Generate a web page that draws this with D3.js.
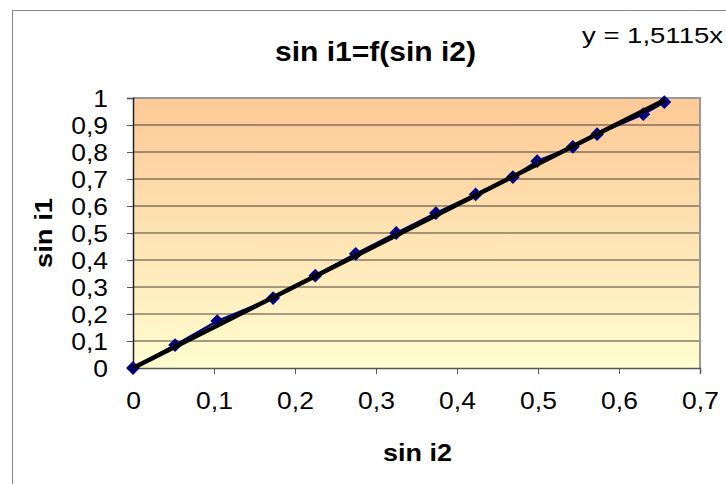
<!DOCTYPE html>
<html>
<head>
<meta charset="utf-8">
<script src="https://cdn.jsdelivr.net/npm/d3@7"></script>
<style>
  body { margin: 0; background: #fff; }
  text { font-family: Arial, "Liberation Sans", sans-serif; }
</style>
</head>
<body>
<div id="plot"></div>
<script>
// data
var sinI2 = [0, 0.052, 0.104, 0.173, 0.225, 0.275, 0.325, 0.374, 0.423, 0.469, 0.499, 0.543, 0.573, 0.630, 0.656];
var sinI1 = [0, 0.085, 0.174, 0.259, 0.342, 0.423, 0.5, 0.574, 0.643, 0.707, 0.766, 0.819, 0.866, 0.940, 0.985];
var slope = 1.5115;
var xTicks = [0, 0.1, 0.2, 0.3, 0.4, 0.5, 0.6, 0.7];
var yTicks = [0, 0.1, 0.2, 0.3, 0.4, 0.5, 0.6, 0.7, 0.8, 0.9, 1];

function init() {
  var w = 726;
  var h = 484;
  var left = 133, right = 700, top = 98, bottom = 368;
  var stretch = 1.15;  // the picture's text is a bit wider than plain Arial

  var svg = d3.select("#plot")
    .append("svg")
    .attr("width", w)
    .attr("height", h);

  // outer chart border (runs past the window on the right and bottom)
  svg.append("rect")
    .attr("x", 12.5).attr("y", 10.5)
    .attr("width", 740).attr("height", 500)
    .attr("fill", "#fff")
    .attr("stroke", "#888").attr("stroke-width", 1);

  var grad = svg.append("defs").append("linearGradient")
    .attr("id", "bg").attr("x1", 0).attr("y1", 0).attr("x2", 0).attr("y2", 1);
  grad.append("stop").attr("offset", "0%").attr("stop-color", "#fdc995");
  grad.append("stop").attr("offset", "100%").attr("stop-color", "#fffdd0");

  var xScale = d3.scaleLinear().domain([0, 0.7]).range([left, right]);
  var yScale = d3.scaleLinear().domain([0, 1]).range([bottom, top]);

  svg.append("rect")
    .attr("x", left).attr("y", top)
    .attr("width", right - left).attr("height", bottom - top)
    .attr("fill", "url(#bg)");

  // gridlines
  svg.selectAll(".grid")
    .data(yTicks.slice(1, -1))
    .enter()
    .append("line")
    .attr("x1", left).attr("x2", right)
    .attr("y1", function(d) { return yScale(d); })
    .attr("y2", function(d) { return yScale(d); })
    .attr("stroke", "#4a4038").attr("stroke-width", 1);

  // plot frame
  svg.append("path")
    .attr("d", "M" + left + "," + top + "H" + right + "V" + bottom)
    .attr("fill", "none").attr("stroke", "#999").attr("stroke-width", 2);

  var fmt = function(d) { return d3.format("")(d).replace(".", ","); };

  var xAxis = d3.axisBottom(xScale).tickValues(xTicks).tickFormat(fmt).tickSize(6);
  var yAxis = d3.axisLeft(yScale).tickValues(yTicks).tickFormat(fmt).tickSize(6);

  var gx = svg.append("g")
    .attr("transform", "translate(0," + bottom + ")")
    .call(xAxis);
  var gy = svg.append("g")
    .attr("transform", "translate(" + left + ",0)")
    .call(yAxis);

  [gx, gy].forEach(function(g) {
    g.selectAll("text").attr("font-size", 23).attr("fill", "#000")
      .attr("font-family", "Arial, 'Liberation Sans', sans-serif")
      .attr("transform", "scale(" + stretch + ",1)");
  });
  gx.selectAll("text").attr("y", 41).attr("dy", 0);
  gy.selectAll("text").attr("x", -25 / stretch).attr("dy", "0.36em");
  gx.select(".domain").attr("stroke", "#555").attr("stroke-width", 1.5);
  gy.select(".domain").attr("stroke", "#222").attr("stroke-width", 1.5);
  gx.selectAll(".tick line").attr("stroke", "#555");
  gy.selectAll(".tick line").attr("stroke", "#555");

  // data series
  var pts = sinI2.map(function(d, i) { return [d, sinI1[i]]; });
  var line = d3.line()
    .x(function(d) { return xScale(d[0]); })
    .y(function(d) { return yScale(d[1]); });

  svg.append("path")
    .datum(pts)
    .attr("d", line)
    .attr("fill", "none").attr("stroke", "#000080").attr("stroke-width", 2.5);

  svg.selectAll(".pt")
    .data(pts)
    .enter()
    .append("path")
    .attr("d", d3.symbol().type(d3.symbolSquare).size(95))
    .attr("transform", function(d) {
      return "translate(" + xScale(d[0]) + "," + yScale(d[1]) + ") rotate(45)";
    })
    .attr("fill", "#000080");

  // linear trendline through origin
  var xMax = d3.max(sinI2);
  svg.append("path")
    .datum([[0, 0], [xMax, slope * xMax]])
    .attr("d", line)
    .attr("fill", "none").attr("stroke", "#000").attr("stroke-width", 4.5);

  // title and labels
  svg.append("text")
    .attr("x", 275).attr("y", 61)
    .attr("font-size", 28).attr("font-weight", "bold")
    .attr("textLength", 201).attr("lengthAdjust", "spacingAndGlyphs")
    .text("sin i1=f(sin i2)");

  svg.append("text")
    .attr("x", 582).attr("y", 43)
    .attr("font-size", 22)
    .attr("textLength", 141).attr("lengthAdjust", "spacingAndGlyphs")
    .text("y = 1,5115x");

  svg.append("text")
    .attr("x", 383).attr("y", 461)
    .attr("font-size", 24).attr("font-weight", "bold")
    .attr("textLength", 69).attr("lengthAdjust", "spacingAndGlyphs")
    .text("sin i2");

  svg.append("text")
    .attr("transform", "rotate(-90)")
    .attr("x", -268).attr("y", 52)
    .attr("font-size", 24).attr("font-weight", "bold")
    .attr("textLength", 70).attr("lengthAdjust", "spacingAndGlyphs")
    .text("sin i1");
}

window.onload = init;
</script>
</body>
</html>
